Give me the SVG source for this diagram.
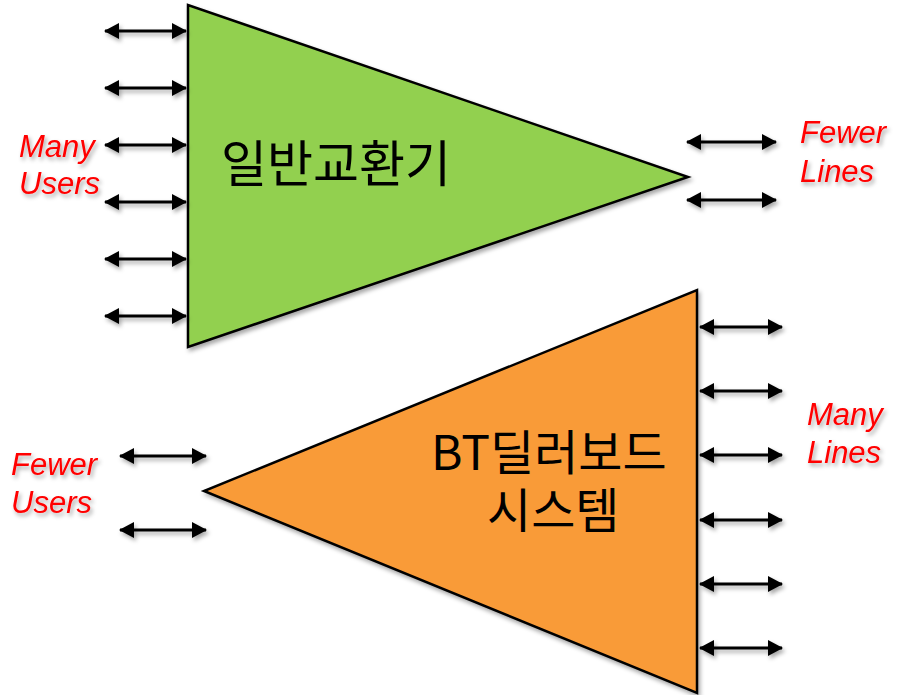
<svg xmlns="http://www.w3.org/2000/svg" width="903" height="695" viewBox="0 0 903 695">
<style>
.lbl{font-family:"Liberation Sans",Arial,sans-serif;font-style:italic;font-size:31px;fill:#FF0000;}
.ko{font-family:"Noto Sans CJK KR","Noto Sans",sans-serif;font-size:50px;fill:#000;}
.ko2{font-family:"Noto Sans CJK KR","Noto Sans",sans-serif;font-size:48px;fill:#000;}
.tri{stroke:#000;stroke-width:2.5;stroke-linejoin:miter;}
.arr{stroke:#000;stroke-width:3;fill:none;marker-start:url(#ah);marker-end:url(#ah);}
</style>
<defs>
<marker id="ah" viewBox="0 0 15 16" refX="14" refY="8" markerWidth="15" markerHeight="16" markerUnits="userSpaceOnUse" orient="auto-start-reverse">
<path d="M0,0 L15,8 L0,16 z" fill="#000"/>
</marker>
<filter id="sh" x="-20%" y="-20%" width="150%" height="150%">
<feDropShadow dx="2" dy="3" stdDeviation="2" flood-color="#000" flood-opacity="0.35"/>
</filter>
</defs>
<g id="switch-general">
<polygon class="tri" points="188,5 188,347 688,177" fill="#92D050" filter="url(#sh)"/>
<text class="ko" x="221" y="182">일반교환기</text>
</g>
<g id="switch-bt">
<polygon class="tri" points="697,290 697,693 204,491" fill="#F99B38" filter="url(#sh)"/>
<text class="ko2" x="431" y="470">BT딜러보드</text>
<text class="ko2" x="487" y="528">시스템</text>
</g>
<g id="labels" filter="url(#sh)">
<text class="lbl" x="19" y="157">Many</text>
<text class="lbl" x="19" y="194">Users</text>
<text class="lbl" x="800" y="143">Fewer</text>
<text class="lbl" x="800" y="182">Lines</text>
<text class="lbl" x="807" y="425">Many</text>
<text class="lbl" x="807" y="463">Lines</text>
<text class="lbl" x="11" y="475">Fewer</text>
<text class="lbl" x="11" y="513">Users</text>
</g>
<g id="connectors" filter="url(#sh)">
<line class="arr" x1="105" y1="31" x2="186" y2="31"/>
<line class="arr" x1="105" y1="88" x2="186" y2="88"/>
<line class="arr" x1="105" y1="145" x2="186" y2="145"/>
<line class="arr" x1="105" y1="202" x2="186" y2="202"/>
<line class="arr" x1="105" y1="259" x2="186" y2="259"/>
<line class="arr" x1="105" y1="316" x2="186" y2="316"/>
<line class="arr" x1="687" y1="142" x2="776" y2="142"/>
<line class="arr" x1="687" y1="200" x2="776" y2="200"/>
<line class="arr" x1="700" y1="327" x2="782" y2="327"/>
<line class="arr" x1="700" y1="391" x2="782" y2="391"/>
<line class="arr" x1="700" y1="455" x2="782" y2="455"/>
<line class="arr" x1="700" y1="520" x2="782" y2="520"/>
<line class="arr" x1="700" y1="584" x2="782" y2="584"/>
<line class="arr" x1="700" y1="648" x2="782" y2="648"/>
<line class="arr" x1="120" y1="456" x2="206" y2="456"/>
<line class="arr" x1="120" y1="530" x2="206" y2="530"/>
</g>
</svg>
